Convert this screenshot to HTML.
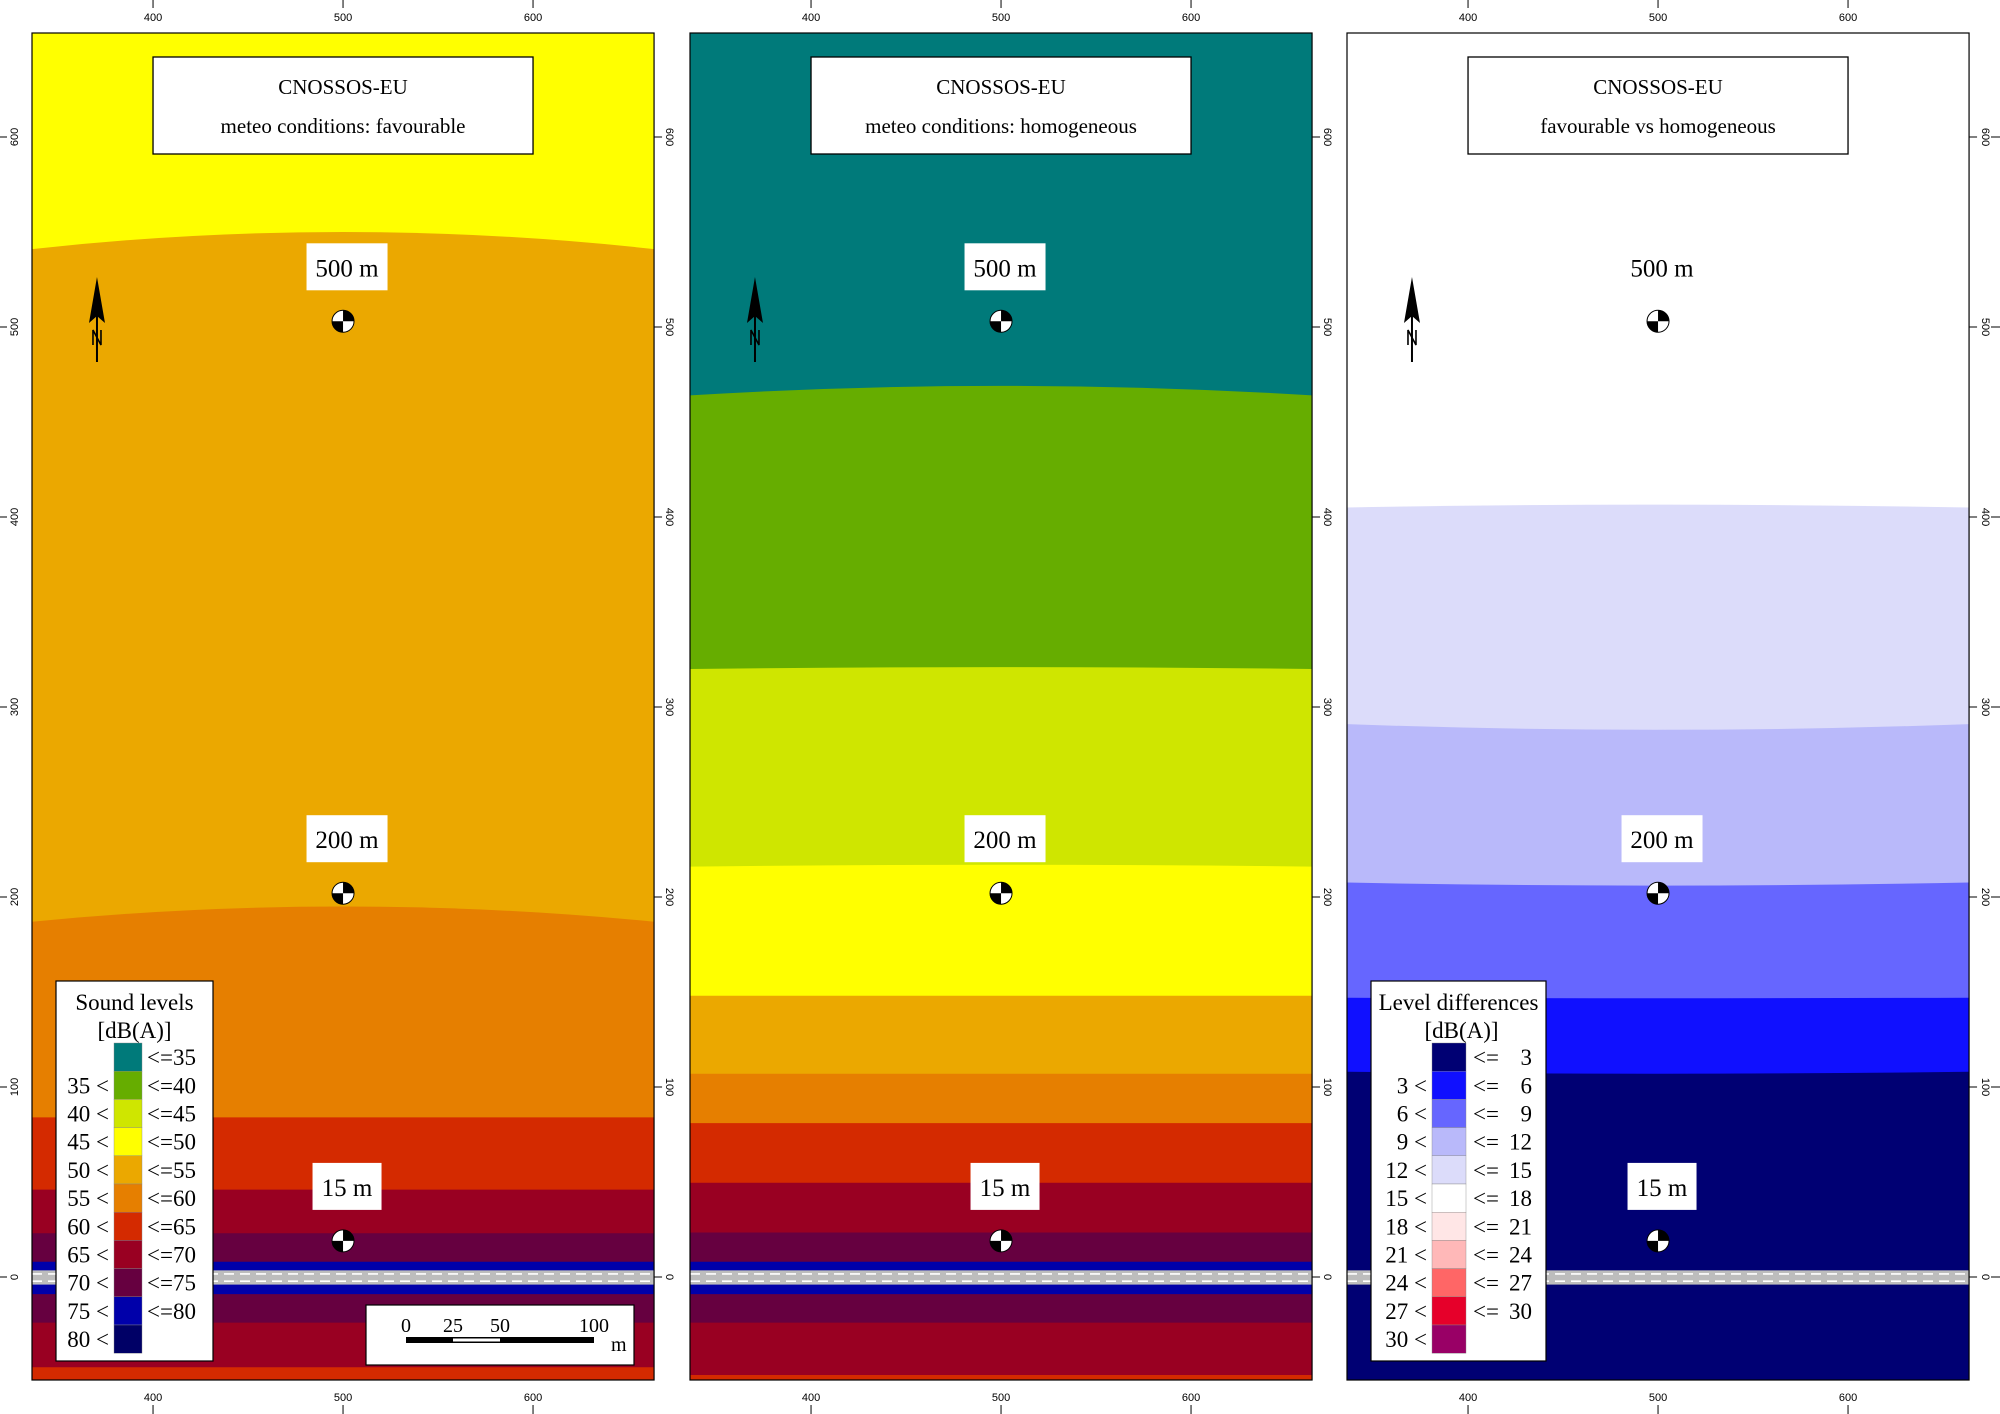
<!DOCTYPE html>
<html><head><meta charset="utf-8"><style>
html,body{margin:0;padding:0;background:#fff}
svg{display:block}
text{font-family:"Liberation Serif",serif}
.ax{font-family:"Liberation Sans",sans-serif;font-size:11px}
</style></head><body>
<svg id="svg" width="2000" height="1414" viewBox="0 0 2000 1414" xmlns="http://www.w3.org/2000/svg"></svg>
<script>
// ---- data (data units: metres) ----
const xTicks = [400, 500, 600];
const yTicks = [0, 100, 200, 300, 400, 500, 600];
const panelTitles = ["meteo conditions: favourable", "meteo conditions: homogeneous", "favourable vs homogeneous"];
// band colours top -> bottom, boundaries (centre value at x=500, edge value at panel sides)
const p1Colors = ["#ffff00","#eba800","#e67f00","#d42a00","#990022","#660040","#0000aa","#0000aa","#660040","#990022","#d42a00"];
const p1Center = [550, 195, 84, 46, 23, 8, -4, -9, -24, -47.5];
const p1Edge   = [541, 187, 84, 46, 23, 8, -4, -9, -24, -47.5];
const p2Colors = ["#007a7a","#66ad00","#cfe600","#ffff00","#eba800","#e67f00","#d42a00","#990022","#660040","#0000aa","#0000aa","#660040","#990022","#d42a00"];
const p2Center = [469, 321, 217, 148, 107, 81, 49.6, 23.4, 8, -4, -9, -24, -51.6];
const p2Edge   = [464, 320, 216, 148, 107, 81, 49.6, 23.4, 8, -4, -9, -24, -51.6];
const p3Colors = ["#ffffff","#dcdcfa","#b9b9fa","#6666ff","#1010ff","#000073"];
const p3Center = [406.5, 288, 206, 146.7, 107];
const p3Edge   = [405, 291, 207.6, 147, 108];
const receivers = [503, 202, 19];
const receiverLabels = ["500 m", "200 m", "15 m"];
const soundColors = ["#007a7a","#66ad00","#cfe600","#ffff00","#eba800","#e67f00","#d42a00","#990022","#660040","#0000aa","#000066"];
const soundBreaks = [35,40,45,50,55,60,65,70,75,80];
const diffColors = ["#000073","#1010ff","#6666ff","#b9b9fa","#dcdcfa","#ffffff","#ffe6e6","#ffb8b8","#ff6666","#e6002a","#990066"];
const diffBreaks = [3,6,9,12,15,18,21,24,27,30];
const scaleTicks = [0,25,50,100];

// ---- axes ----
const NS="http://www.w3.org/2000/svg";
const svg=document.getElementById('svg');
const panelX0=[32,690,1347];
const XMIN=336.3, XMAX=663.7, YMIN=-54, YMAX=653.7, K=1.9;
const PT=33, PB=1380;
function xs(p,v){return panelX0[p]+(v-XMIN)*K;}
function ys(v){return 1277-v*K;}
function el(tag,attrs,parent){const e=document.createElementNS(NS,tag);for(const k in attrs)e.setAttribute(k,attrs[k]);(parent||svg).appendChild(e);return e;}
function txt(s,attrs,parent){const e=el('text',attrs,parent);e.textContent=s;return e;}

function drawBands(p,colors,center,edge,g){
  const x0=xs(p,XMIN),x1=xs(p,XMAX),xm=xs(p,500);
  const r=el('rect',{x:x0,y:PT,width:x1-x0,height:PB-PT,fill:colors[0]},g);
  
  
  for(let i=0;i<center.length;i++){
    const yc=ys(center[i]), ye=ys(edge[i]);
    const ctrl=2*yc-ye;
    const path=el('path',{d:`M${x0},${ye} Q${xm},${ctrl} ${x1},${ye} L${x1},${PB} L${x0},${PB} Z`,fill:colors[i+1]},g);
    
    
  }
}
function drawRoad(p,g){
  const x0=xs(p,XMIN),x1=xs(p,XMAX);
  const r=el('rect',{x:x0,y:ys(3.5),width:x1-x0,height:ys(-4)-ys(3.5),fill:'#bdbdbd'},g);
  
  
  el('line',{x1:x0,x2:x1,y1:ys(1.6),y2:ys(1.6),stroke:'#fff','stroke-width':1.6,'stroke-dasharray':'10 6'},g);
  el('line',{x1:x0,x2:x1,y1:ys(-2.2),y2:ys(-2.2),stroke:'#fff','stroke-width':1.6,'stroke-dasharray':'10 6'},g);
}
function drawReceiver(p,v,lbl,boxed,g){
  const cx=xs(p,500), cy=ys(v), r=11;
  const rg=el('g',{},g);
  
  
  el('circle',{cx,cy,r,fill:'#fff',stroke:'#000','stroke-width':1},rg);
  el('path',{d:`M${cx},${cy} L${cx},${cy-r} A${r},${r} 0 0 1 ${cx+r},${cy} Z`,fill:'#000'},rg);
  el('path',{d:`M${cx},${cy} L${cx},${cy+r} A${r},${r} 0 0 1 ${cx-r},${cy} Z`,fill:'#000'},rg);
  const ly=cy-54;
  const w=lbl.length>4?81:69;
  if(boxed){const b=el('rect',{x:cx+4-w/2,y:ly-24,width:w,height:47,fill:'#fff'},g);
    
    }
  const t=txt(lbl,{x:cx+4,y:ly+9,'text-anchor':'middle','font-size':25},g);
  
  
}
function drawNorth(p,g){
  const x=xs(p,370.5);
  const ng=el('g',{},g);
  
  
  el('line',{x1:x,x2:x,y1:300,y2:362,stroke:'#000','stroke-width':2},ng);
  el('path',{d:`M${x},277 L${x+8},323 L${x},316 L${x-8},323 Z`,fill:'#000'},ng);
  el('path',{d:`M${x-4},345 L${x-4},330 L${x+4},345 L${x+4},330`,fill:'none',stroke:'#000','stroke-width':1.6},ng);
}
function drawTitle(p,sub,g){
  const cx=xs(p,500);
  const b=el('rect',{x:cx-190,y:57,width:380,height:97,fill:'#fff',stroke:'#000','stroke-width':1.3},g);
  
  
  const t1=txt('CNOSSOS-EU',{x:cx,y:94,'text-anchor':'middle','font-size':21},g);
  
  
  const t2=txt(sub,{x:cx,y:133,'text-anchor':'middle','font-size':21},g);
  
  
}
function drawAxes(p,g){
  const x0=xs(p,XMIN),x1=xs(p,XMAX);
  el('rect',{x:x0,y:PT,width:x1-x0,height:PB-PT,fill:'none',stroke:'#000','stroke-width':1.2},g);
  xTicks.forEach(v=>{
    const x=xs(p,v);
    el('line',{x1:x,x2:x,y1:0,y2:8,stroke:'#000'},g);
    const t=txt(v,{x,y:21,'text-anchor':'middle',class:'ax'},g);
    
    
    el('line',{x1:x,x2:x,y1:1405,y2:1414,stroke:'#000'},g);
    const b=txt(v,{x,y:1401,'text-anchor':'middle',class:'ax'},g);
    
    
  });
  yTicks.forEach(v=>{
    const y=ys(v);
    if(p===0){
      el('line',{x1:0,x2:7,y1:y,y2:y,stroke:'#000'},g);
      const t=txt(v,{x:0,y:0,'text-anchor':'middle',class:'ax',transform:`translate(18,${y}) rotate(-90)`},g);
      
      
    }
    el('line',{x1:x1,x2:x1+8,y1:y,y2:y,stroke:'#000'},g);
    const t=txt(v,{x:0,y:0,'text-anchor':'middle',class:'ax',transform:`translate(${p===2?1982:x1+12},${y}) rotate(90)`},g);
    
    
    if(p===2) el('line',{x1:1991,x2:2000,y1:y,y2:y,stroke:'#000'},g);
  });
}
function drawLegend(x,y,w,h,title,colors,breaks,swX,swW,g,diff){
  const lg=el('g',{},g);
  
  
  el('rect',{x,y,width:w,height:h,fill:'#fff',stroke:'#000','stroke-width':1.2},lg);
  txt(title,{x:x+w/2,y:y+29,'text-anchor':'middle','font-size':23},lg);
  txt('[dB(A)]',{x:x+w/2+ (diff?3:0),y:y+57,'text-anchor':'middle','font-size':23},lg);
  const sy=1043, sh=28.2;
  colors.forEach((c,i)=>{
    const s=el('rect',{x:swX,y:sy+i*sh,width:swW,height:sh,fill:c,stroke:'#888','stroke-width':0.4},lg);
    
    
  });
  breaks.forEach((b,i)=>{
    const yr=sy+i*sh+sh/2+8, yl=sy+(i+1)*sh+sh/2+8;
    txt(b+' <',{x:swX-5,y:yl,'text-anchor':'end','font-size':23},lg);
    if(diff){
      txt('<=',{x:swX+swW+7,y:yr,'font-size':23},lg);
      txt(b,{x:swX+swW+66,y:yr,'text-anchor':'end','font-size':23},lg);
    } else {
      txt('<='+b,{x:swX+swW+5,y:yr,'font-size':23},lg);
    }
  });
}
function drawScaleBar(g){
  const sg=el('g',{},g);
  
  
  el('rect',{x:366,y:1305,width:268,height:60,fill:'#fff',stroke:'#000','stroke-width':1.2},sg);
  const bx=v=>406+v*1.88;
  el('rect',{x:bx(0),y:1337,width:bx(100)-bx(0),height:6,fill:'#000'},sg);
  el('rect',{x:bx(25),y:1338.5,width:bx(50)-bx(25),height:3,fill:'#fff'},sg);
  scaleTicks.forEach(v=>txt(v,{x:bx(v),y:1332,'text-anchor':'middle','font-size':20},sg));
  txt('m',{x:611,y:1351,'font-size':20},sg);
}

const panels=[[p1Colors,p1Center,p1Edge],[p2Colors,p2Center,p2Edge],[p3Colors,p3Center,p3Edge]];
panels.forEach((d,p)=>{
  const g=el('g',{});
  
  
  drawBands(p,d[0],d[1],d[2],g);
  drawRoad(p,g);
  drawTitle(p,panelTitles[p],g);
  drawNorth(p,g);
  receivers.forEach((v,i)=>drawReceiver(p,v,receiverLabels[i],!(p===2&&i===0),g));
  if(p===0){drawLegend(56,981,157,380,'Sound levels',soundColors,soundBreaks,114,28,g,false);drawScaleBar(g);}
  if(p===2){drawLegend(1371,981,175,380,'Level differences',diffColors,diffBreaks,1432,34,g,true);}
  drawAxes(p,g);
});
</script>
</body></html>
